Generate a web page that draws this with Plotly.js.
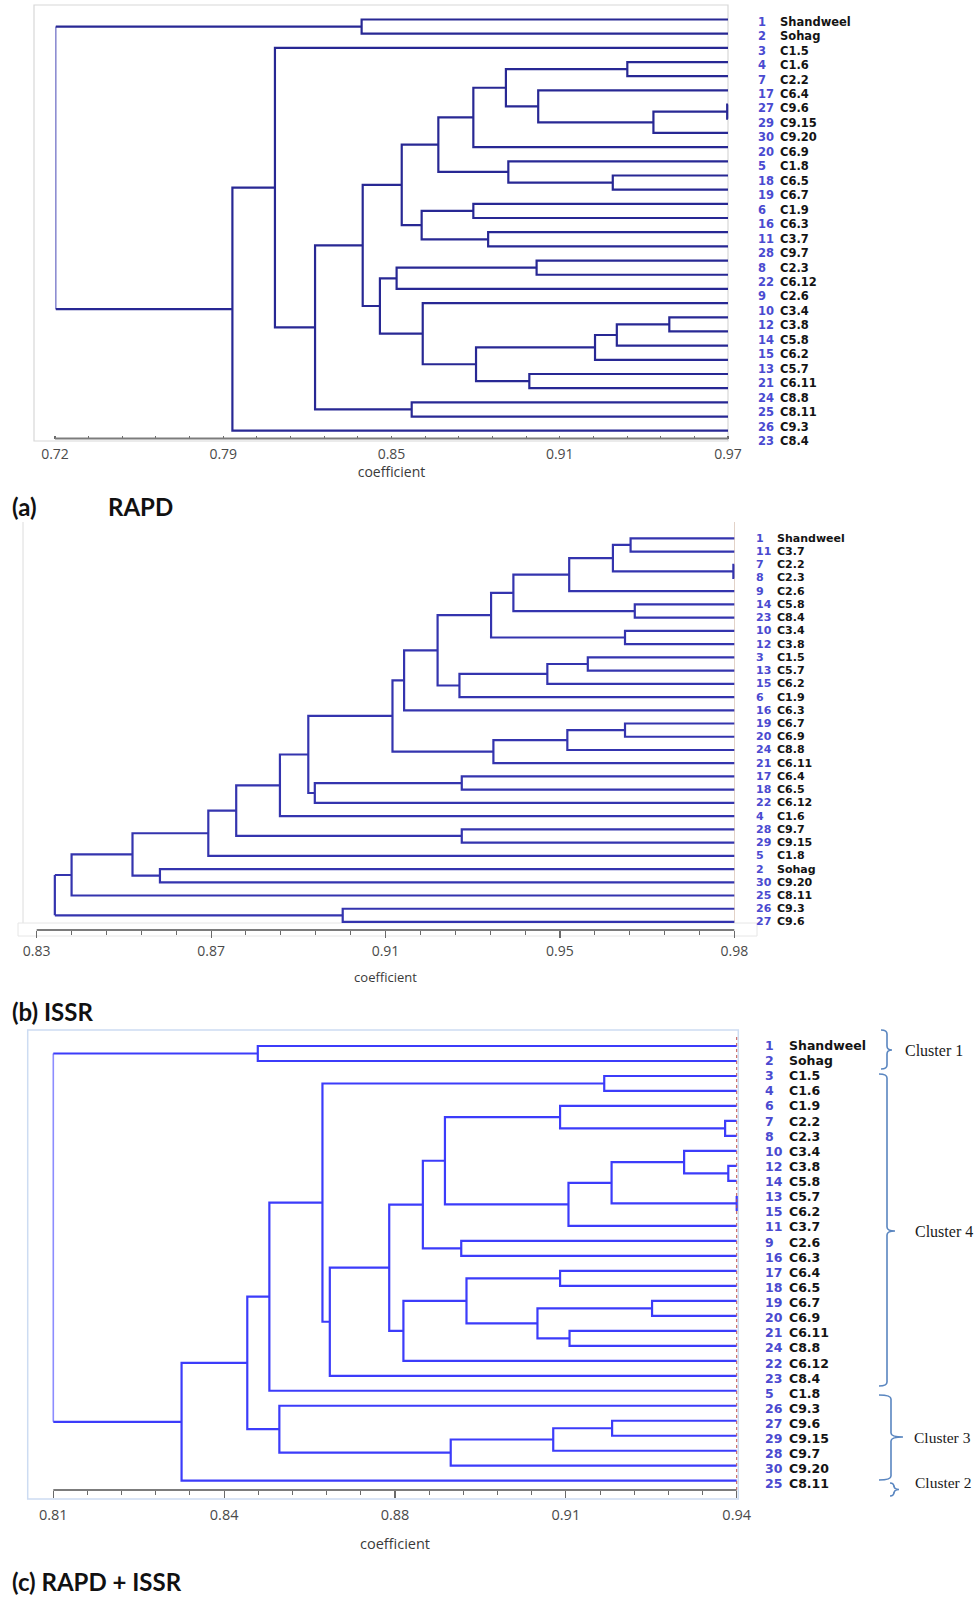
<!DOCTYPE html>
<html><head><meta charset="utf-8">
<script src="https://cdn.plot.ly/plotly-3.0.1.min.js"></script>
<style>html,body{margin:0;padding:0;background:#fff}</style>
</head><body>
<div id="chart" style="width:974px;height:1598px"></div>
<script>
// ================= DATA =================
// (a) RAPD
const rapdLeafIds = [1,2,3,4,7,17,27,29,30,20,5,18,19,6,16,11,28,8,22,9,10,12,14,15,13,21,24,25,26,23];
const rapdLeafNames = ['Shandweel','Sohag','C1.5','C1.6','C2.2','C6.4','C9.6','C9.15','C9.20','C6.9','C1.8','C6.5','C6.7','C1.9','C6.3','C3.7','C9.7','C2.3','C6.12','C2.6','C3.4','C3.8','C5.8','C6.2','C5.7','C6.11','C8.8','C8.11','C9.3','C8.4'];
// merges: [childA, childB, coefficient]; positive = accession number, negative = earlier merge (1-based)
const rapdMerges = [
  [1,2,0.8339],[4,7,0.9326],[27,29,0.9697],[-3,30,0.9423],[17,-4,0.8995],
  [-2,-5,0.8875],[-6,20,0.8754],[18,19,0.9272],[5,-8,0.8884],[-7,-9,0.8624],
  [6,16,0.8754],[11,28,0.8809],[-11,-12,0.8562],[-10,-13,0.8488],[8,22,0.8989],
  [-15,9,0.8469],[12,14,0.9482],[-17,15,0.9287],[-18,13,0.9206],[21,24,0.8962],
  [-19,-20,0.8764],[10,-21,0.8566],[-16,-22,0.8407],[-14,-23,0.8343],[25,26,0.8525],
  [-24,-25,0.8166],[3,-26,0.8017],[-27,23,0.7859],[-1,-28,0.7203]
];
const rapdTickLabels = ['0.72','0.79','0.85','0.91','0.97'];
const rapdRange = [0.72, 0.97];

// (b) ISSR
const issrLeafIds = [1,11,7,8,9,14,23,10,12,3,13,15,6,16,19,20,24,21,17,18,22,4,28,29,5,2,30,25,26,27];
const issrLeafNames = ['Shandweel','C3.7','C2.2','C2.3','C2.6','C5.8','C8.4','C3.4','C3.8','C1.5','C5.7','C6.2','C1.9','C6.3','C6.7','C6.9','C8.8','C6.11','C6.4','C6.5','C6.12','C1.6','C9.7','C9.15','C1.8','Sohag','C9.20','C8.11','C9.3','C9.6'];
const issrMerges = [
  [1,11,0.9577],[7,8,0.9798],[-1,-2,0.9539],[-3,9,0.9445],[14,23,0.9586],
  [-4,-5,0.9325],[10,12,0.9565],[-6,-7,0.9277],[3,13,0.9485],[-9,15,0.9398],
  [-10,6,0.9209],[-8,-11,0.9162],[-12,16,0.9090],[19,20,0.9565],[-14,24,0.9441],
  [-15,21,0.9282],[-13,-16,0.9065],[17,18,0.9214],[-18,22,0.8898],[-17,-19,0.8884],
  [-20,4,0.8823],[28,29,0.9214],[-21,-22,0.8729],[-23,5,0.8669],[2,30,0.8565],
  [-24,-25,0.8506],[-26,25,0.8375],[26,27,0.8958],[-27,-28,0.8339]
];
const issrTickLabels = ['0.83','0.87','0.91','0.95','0.98'];
const issrRange = [0.83, 0.98];

// (c) RAPD + ISSR
const combLeafIds = [1,2,3,4,6,7,8,10,12,14,13,15,11,9,16,17,18,19,20,21,24,22,23,5,26,27,29,28,30,25];
const combLeafNames = ['Shandweel','Sohag','C1.5','C1.6','C1.9','C2.2','C2.3','C3.4','C3.8','C5.8','C5.7','C6.2','C3.7','C2.6','C6.3','C6.4','C6.5','C6.7','C6.9','C6.11','C8.8','C6.12','C8.4','C1.8','C9.3','C9.6','C9.15','C9.7','C9.20','C8.11'];
const combMerges = [
  [1,2,0.8489],[3,4,0.9148],[7,8,0.9378],[6,-3,0.9064],[12,14,0.9384],
  [10,-5,0.9300],[13,15,0.9400],[-6,-7,0.9162],[-8,11,0.9080],[-4,-9,0.8845],
  [9,16,0.8876],[-10,-11,0.8803],[17,18,0.9064],[19,20,0.9239],[21,24,0.9082],
  [-14,-15,0.9021],[-13,-16,0.8886],[-17,22,0.8766],[-12,-18,0.8739],[-19,23,0.8626],
  [-2,-20,0.8612],[-21,5,0.8511],[27,29,0.9163],[-23,28,0.9051],[-24,30,0.8856],
  [26,-25,0.8530],[-22,-26,0.8469],[-27,25,0.8344],[-1,-28,0.8100]
];
const combTickLabels = ['0.81','0.84','0.88','0.91','0.94'];
const combRange = [0.81, 0.94];

const clusterNames = ['Cluster 1','Cluster 4','Cluster 3','Cluster 2'];
const panelTitles = ['(a)','RAPD','(b) ISSR','(c) RAPD + ISSR'];
const axisTitle = 'coefficient';

// ================= LAYOUT HELPERS =================
const W = 974, H = 1598;
const PX = p => p / W;
const PY = p => 1 - p / H;

function buildTree(ids, merges, leafX) {
  const pos = {};
  ids.forEach((id, i) => { pos['L' + id] = {x: leafX, y: i}; });
  const X = [], Y = [], RX = [], RY = [];
  merges.forEach((m, k) => {
    const a = m[0] > 0 ? pos['L' + m[0]] : pos['M' + (-m[0])];
    const b = m[1] > 0 ? pos['L' + m[1]] : pos['M' + (-m[1])];
    const h = m[2];
    if (k === merges.length - 1) {
      X.push(a.x, h, null, h, b.x, null);
      Y.push(a.y, a.y, null, b.y, b.y, null);
      RX.push(h, h); RY.push(a.y, b.y);
    } else {
      X.push(a.x, h, h, b.x, null);
      Y.push(a.y, a.y, b.y, b.y, null);
    }
    pos['M' + (k + 1)] = {x: h, y: (a.y + b.y) / 2};
  });
  return {X, Y, RX, RY};
}

const panels = [
  {ids: rapdLeafIds, names: rapdLeafNames, merges: rapdMerges, ticks: rapdTickLabels, range: rapdRange,
   axL: 55, axR: 728, axY: 438.5, top: 5, r0: 19.5, rs: 14.18, lab0: 21.7, labDy: 14.46, numX: 756, nameX: 778, fs: 11.5,
   color: '#282894', rootColor: '#8e8ed2', rootW: 1.6, lw: 2.2, tickDir: 'inside', tlen: 3, mlen: 3, tstand: 5, titleStand: 2, tickSize: 14, titleSize: 14},
  {ids: issrLeafIds, names: issrLeafNames, merges: issrMerges, ticks: issrTickLabels, range: issrRange,
   axL: 36.7, axR: 734.3, axY: 930, top: 522, r0: 538.3, rs: 13.23, lab0: 538.3, labDy: 13.23, numX: 754, nameX: 775, fs: 11,
   color: '#3434ae', rootColor: '#3434ae', rootW: 2.2, lw: 2.2, tickDir: 'outside', tlen: 7, mlen: 4, tstand: 1, titleStand: 14, tickSize: 14, titleSize: 13},
  {ids: combLeafIds, names: combLeafNames, merges: combMerges, ticks: combTickLabels, range: combRange,
   axL: 53.3, axR: 736.7, axY: 1490, top: 1030, r0: 1046, rs: 14.99, lab0: 1045.5, labDy: 15.12, numX: 763, nameX: 786.5, fs: 12.5,
   color: '#3c3cfa', rootColor: '#8c8cff', rootW: 1.6, lw: 2.2, tickDir: 'outside', tlen: 7, mlen: 4, tstand: 5, titleStand: 15, tickSize: 14.5, titleSize: 14.5}
];

const data = [];
const layout = {
  width: W, height: H, margin: {l: 0, r: 0, t: 0, b: 0},
  paper_bgcolor: '#ffffff', plot_bgcolor: 'rgba(0,0,0,0)', showlegend: false,
  shapes: [], annotations: []
};

panels.forEach((p, i) => {
  const s = i === 0 ? '' : String(i + 1);
  const lo = p.range[0], hi = p.range[1];
  const perPx = (hi - lo) / (p.axR - p.axL);
  const pad = 8;
  const step = (hi - lo) / (p.ticks.length - 1);
  const tickvals = p.ticks.map((t, k) => lo + k * step);
  const minorvals = [];
  for (let k = 0; k < p.ticks.length - 1; k++) for (let j = 1; j < 5; j++) minorvals.push(lo + (k + j / 5) * step);

  const tree = buildTree(p.ids, p.merges, hi);
  data.push({type: 'scatter', mode: 'lines', x: tree.RX, y: tree.RY, xaxis: 'x' + s, yaxis: 'y' + s,
    line: {color: p.rootColor, width: p.rootW}, hoverinfo: 'skip', showlegend: false});
  data.push({type: 'scatter', mode: 'lines', x: tree.X, y: tree.Y, xaxis: 'x' + s, yaxis: 'y' + s,
    line: {color: p.color, width: p.lw}, hoverinfo: 'skip', showlegend: false});

  // plot area extends a little below the axis so the lowest leaf label stays inside the y range
  const B = p.axY + 12;
  layout['xaxis' + s] = {
    domain: [PX(p.axL - pad), PX(p.axR + pad)],
    range: [lo - pad * perPx, hi + pad * perPx], autorange: false,
    anchor: 'free', position: PY(p.axY),
    showline: false, showgrid: false, zeroline: false,
    tickmode: 'array', tickvals: tickvals, ticktext: p.ticks,
    ticks: p.tickDir, ticklen: p.tlen, tickwidth: 1.2, tickcolor: '#6a6a6a',
    ticklabelstandoff: p.tstand,
    minor: {tickmode: 'array', tickvals: minorvals, ticks: p.tickDir, ticklen: p.mlen, tickwidth: 1, tickcolor: '#6a6a6a'},
    tickfont: {family: 'Open Sans, sans-serif', size: p.tickSize, color: '#4a4a4a'},
    title: {text: axisTitle, font: {family: 'Open Sans, sans-serif', size: p.titleSize, color: '#3a3a3a'}, standoff: p.titleStand},
    fixedrange: true
  };
  layout['yaxis' + s] = {
    domain: [PY(B), PY(p.top)],
    range: [(B - p.r0) / p.rs, (p.top - p.r0) / p.rs], autorange: false,
    anchor: 'x' + s, visible: false, fixedrange: true
  };
  // axis base line
  layout.shapes.push({type: 'line', xref: 'paper', yref: 'paper', x0: PX(p.axL), x1: PX(p.axR), y0: PY(p.axY), y1: PY(p.axY),
    line: {color: '#7c7c7c', width: 2.2}});

  // leaf labels (label rows are laid out by the same y axis)
  p.ids.forEach((id, k) => {
    const yl = (p.lab0 + p.labDy * k - p.r0) / p.rs;
    layout.annotations.push({xref: 'paper', yref: 'y' + s, x: PX(p.numX), y: yl, xanchor: 'left', yanchor: 'middle',
      text: '<b>' + id + '</b>', showarrow: false, font: {family: 'DejaVu Sans, Verdana, sans-serif', size: p.fs, color: '#4a4ad0'}});
    layout.annotations.push({xref: 'paper', yref: 'y' + s, x: PX(p.nameX), y: yl, xanchor: 'left', yanchor: 'middle',
      text: '<b>' + p.names[k] + '</b>', showarrow: false, font: {family: 'DejaVu Sans, Verdana, sans-serif', size: p.fs, color: '#141414'}});
  });
});

// frames
const frameLine = (x0, y0, x1, y1, c, w) => ({type: 'line', xref: 'paper', yref: 'paper', x0: PX(x0), x1: PX(x1), y0: PY(y0), y1: PY(y1), line: {color: c, width: w}, layer: 'below'});
const frameRect = (x0, y0, x1, y1, c, w) => ({type: 'rect', xref: 'paper', yref: 'paper', x0: PX(x0), x1: PX(x1), y0: PY(y0), y1: PY(y1), line: {color: c, width: w}, layer: 'below'});
layout.shapes.push(frameRect(34, 5, 728, 441, '#d8d8d8', 1.2));
layout.shapes.push(frameLine(23, 522, 23, 923, '#dcdcdc', 1));
layout.shapes.push(frameLine(734.5, 522, 734.5, 923, '#e2d2c8', 1));
layout.shapes.push(frameRect(18, 923, 757, 936, '#e6e6e6', 1));
layout.shapes.push(frameRect(27.7, 1030, 738.3, 1499, '#cddcf2', 1.5));
// dotted cut line in (c)
layout.shapes.push({type: 'line', xref: 'x3', yref: 'y3', x0: combRange[1], x1: combRange[1], y0: -0.6, y1: 29.6,
  line: {color: '#c0504d', width: 1, dash: 'dot'}});

// cluster braces (c)
function brace(xh, xv, xt, y0, ym, y1) {
  const r = 4;
  const P = (x, y) => PX(x).toFixed(5) + ',' + PY(y).toFixed(5);
  return 'M' + P(xh, y0) + ' Q' + P(xv, y0) + ' ' + P(xv, y0 + r) +
         ' L' + P(xv, ym - r) + ' Q' + P(xv, ym) + ' ' + P(xt, ym) +
         ' Q' + P(xv, ym) + ' ' + P(xv, ym + r) +
         ' L' + P(xv, y1 - r) + ' Q' + P(xv, y1) + ' ' + P(xh, y1);
}
const braceSpecs = [
  {xh: 881, xv: 887, xt: 892, y0: 1030, ym: 1050, y1: 1069, tx: 902.7, ty: 1050, fs: 16},
  {xh: 879, xv: 887, xt: 895, y0: 1074, ym: 1231, y1: 1386, tx: 912.7, ty: 1231, fs: 16},
  {xh: 879, xv: 891, xt: 903, y0: 1395, ym: 1437, y1: 1480, tx: 912, ty: 1437, fs: 15.5},
  {xh: 890, xv: 894, xt: 899, y0: 1483, ym: 1489.5, y1: 1496, tx: 913, ty: 1482, fs: 15.5}
];
braceSpecs.forEach((b, k) => {
  layout.shapes.push({type: 'path', xref: 'paper', yref: 'paper', path: brace(b.xh, b.xv, b.xt, b.y0, b.ym, b.y1),
    line: {color: '#5a86c0', width: 1.6}});
  layout.annotations.push({xref: 'paper', yref: 'paper', x: PX(b.tx), y: PY(b.ty), xanchor: 'left', yanchor: 'middle',
    text: clusterNames[k], showarrow: false, font: {family: 'Liberation Serif, Times New Roman, serif', size: b.fs, color: '#1a1a1a'}});
});

// panel captions
const capSpecs = [[10, 507], [106, 507], [10, 1012], [10, 1581]];
panelTitles.forEach((t, k) => {
  layout.annotations.push({xref: 'paper', yref: 'paper', x: PX(capSpecs[k][0]), y: PY(capSpecs[k][1]), xanchor: 'left', yanchor: 'middle',
    text: '<b>' + t + '</b>', showarrow: false, font: {family: 'Lato, Carlito, sans-serif', size: 24, color: '#111111'}});
});

Plotly.newPlot('chart', data, layout, {staticPlot: true, displayModeBar: false});
</script>
</body></html>
